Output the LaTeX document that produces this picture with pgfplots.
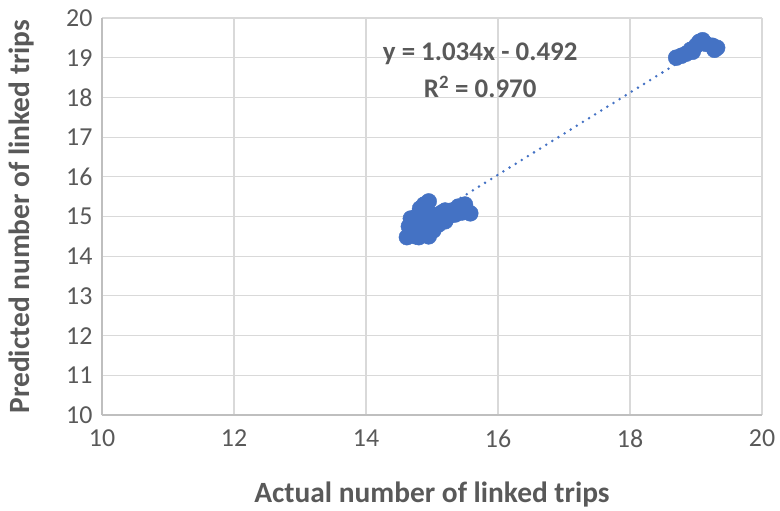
\documentclass[border=0pt]{standalone}
\usepackage{fontspec}
\setmainfont{Carlito}
\usepackage{pgfplots}
\pgfplotsset{compat=1.18}
\definecolor{ptblue}{HTML}{4472C4}
\definecolor{gridgray}{HTML}{D9D9D9}
\definecolor{axgray}{HTML}{BFBFBF}
\definecolor{txtgray}{HTML}{595959}
\begin{document}
\begin{tikzpicture}
\useasboundingbox (0,0) rectangle (780bp,511bp);
\begin{axis}[
  at={(102bp,96bp)}, anchor=south west,
  width=660bp, height=397bp, scale only axis,
  xmin=10, xmax=20, ymin=10, ymax=20,
  xtick={10,12,...,20}, ytick={10,11,...,20},
  grid=major,
  major grid style={draw=gridgray, line width=1.1pt},
  axis lines*=left,
  axis line style={draw=axgray, line width=1.1pt},
  major tick length=0pt,
  /pgf/number format/assume math mode=true,
  tick label style={font=\fontsize{26}{30}\selectfont, text=txtgray},
  xticklabel style={yshift=-11bp},
  yticklabel style={xshift=-6bp},
  xlabel={Actual number of linked trips},
  ylabel={Predicted number of linked trips},
  label style={font=\bfseries\fontsize{29.5}{34}\selectfont, text=txtgray},
  xlabel style={at={([yshift=-79bp]axis description cs:0.5,0)}, anchor=center},
  ylabel style={at={([xshift=-80bp]axis description cs:0,0.5)}, anchor=center},
  clip=false,
]
\addplot[only marks, mark=*, mark size=8bp, mark options={fill=ptblue, draw=ptblue}] coordinates {
(14.62,14.48) (14.65,14.75) (14.70,14.60) (14.72,14.88) (14.75,14.50)
(14.78,15.02) (14.80,14.70) (14.82,15.20) (14.85,14.55) (14.85,14.92)
(14.88,15.30) (14.90,14.70) (14.92,15.10) (14.95,15.38) (14.95,14.60)
(14.98,14.85) (15.00,15.05) (15.02,14.65) (15.05,14.78) (15.10,14.95)
(15.15,15.10) (15.20,14.88) (15.25,15.00) (15.30,15.15) (15.35,15.05)
(15.40,15.25) (15.45,15.10) (15.50,15.30) (15.58,15.08) (15.20,15.15)
(15.10,14.80) (14.68,14.95) (14.80,14.48) (14.95,14.50)
(18.70,19.00) (18.78,19.05) (18.85,19.10) (18.92,19.20) (19.00,19.30)
(19.05,19.40) (19.10,19.44) (19.15,19.35) (19.25,19.30) (19.32,19.25)
(19.28,19.20) (18.95,19.15)
};
\addplot[ptblue, line width=2.8bp, dash pattern=on 0bp off 7.2bp, line cap=round] coordinates {(14.6,14.604) (19.3,19.464)};
\node[font=\bfseries\fontsize{27}{32}\selectfont, text=txtgray] at (axis cs:15.73,19.10) {y = 1.034x - 0.492};
\node[font=\bfseries\fontsize{27}{32}\selectfont, text=txtgray] at (axis cs:15.73,18.26) {R\textsuperscript{2} = 0.970};
\end{axis}
\end{tikzpicture}
\end{document}
